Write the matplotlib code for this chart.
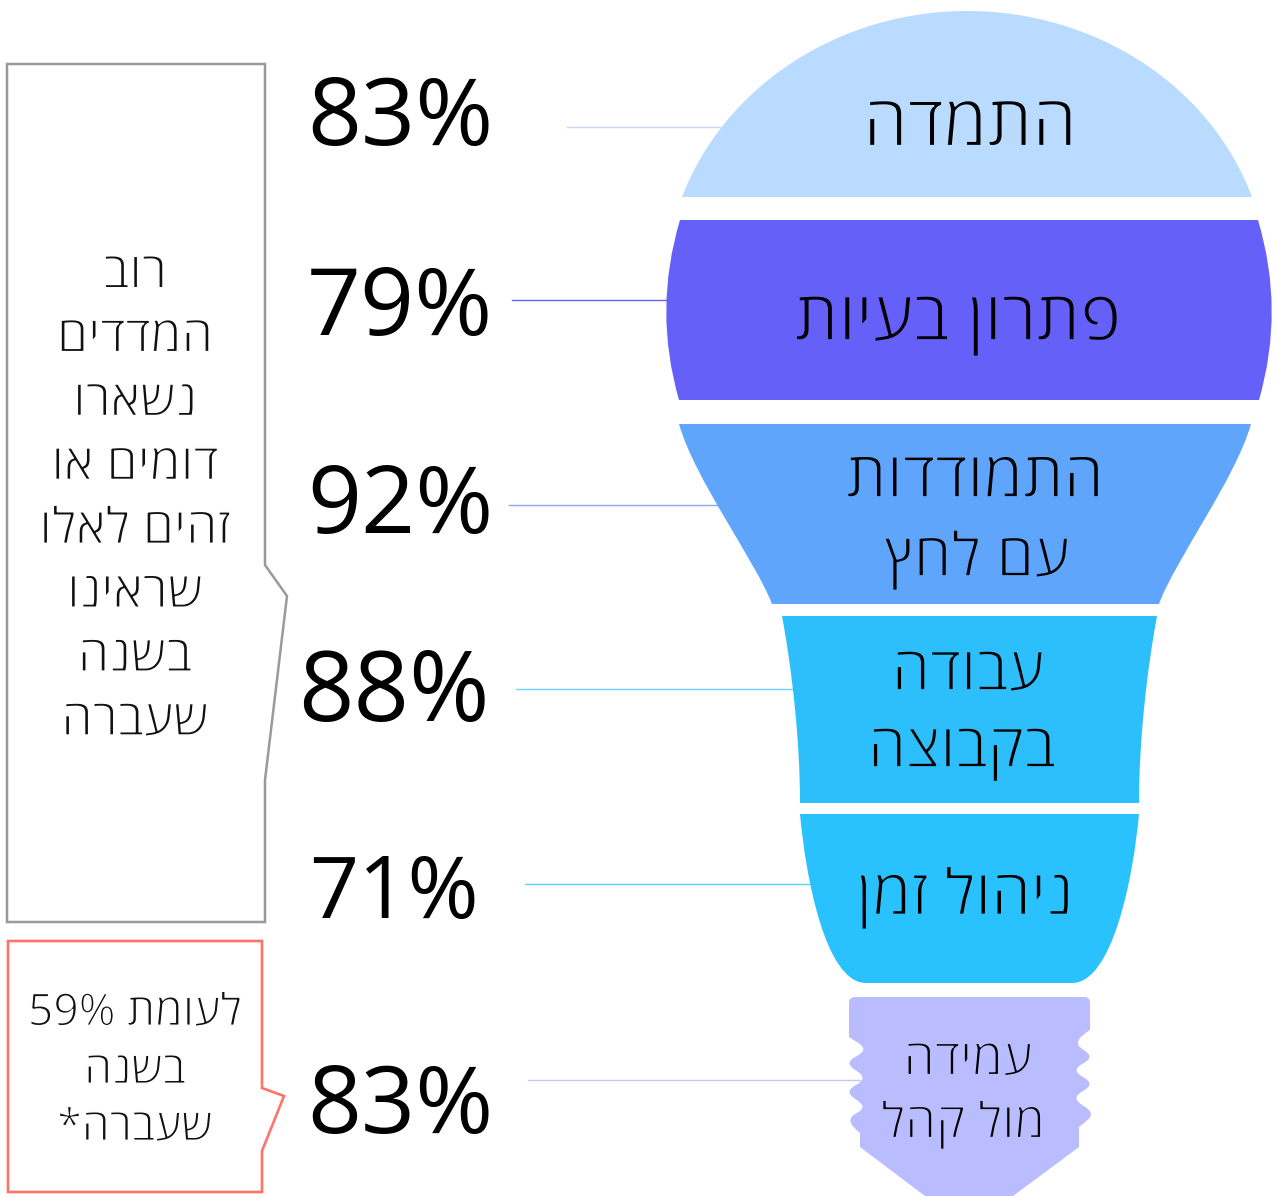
# lightbulb infographic - hebrew labels with percentages
import matplotlib
matplotlib.use("Agg")
import matplotlib.pyplot as plt
import matplotlib.patheffects as pe
from matplotlib.path import Path
from matplotlib.patches import PathPatch, Polygon

percents = [83, 79, 92, 88, 71, 83]
percent_right = [493, 493, 493, 490, 479, 493]
percent_y = [120, 310, 509, 696, 896, 1109]
percent_size = [68, 68, 68, 70, 62, 68]

labels = ["התמדה", "פתרון בעיות", "התמודדות", "עם לחץ", "עבודה", "בקבוצה", "ניהול זמן", "עמידה", "מול קהל"]
label_x = [970, 958, 975, 977, 968, 962, 965, 968, 963]
label_y = [127, 322, 480, 560, 674, 752, 898, 1062, 1125]
label_size = [51, 49.7, 46, 43.5, 44, 44, 45.5, 36, 35.5]
label_bg = ["#B8DBFF", "#6560F8", "#5EA5FB", "#5EA5FB", "#2DBFFB", "#2DBFFB", "#29C1FE", "#B9BCFF", "#B9BCFF"]

gray_note = ["רוב", "המדדים", "נשארו", "דומים או", "זהים לאלו", "שראינו", "בשנה", "שעברה"]
red_note = ["לעומת 59%", "בשנה", "שעברה*"]

leaders = [(567, 720, 127, "#c9d4f8"), (512, 668, 300, "#6560f8"), (509, 720, 505, "#8aa6f6"),
           (516, 796, 689, "#6dd2fb"), (525, 810, 884, "#5fd0fd"), (528, 860, 1080, "#c6c6f8")]

FONT = ["Open Sans", "Liberation Sans", "DejaVu Sans"]


def visual(s):
    # matplotlib has no bidi, so put the hebrew in drawing order
    words = [w if any(c.isdigit() for c in w) else w[::-1] for w in s.split(" ")]
    return " ".join(words[::-1])


def thin(bg, width=1.3):
    # no light hebrew face installed: eat the glyph edge with the background colour
    return [pe.Stroke(linewidth=width, foreground=bg)]


fig = plt.figure(figsize=(12.77, 11.96), dpi=100)
ax = fig.add_axes([0, 0, 1, 1])
ax.set_xlim(0, 1277)
ax.set_ylim(1196, 0)
ax.axis("off")

for x0, x1, y, c in leaders:
    ax.plot([x0, x1], [y, y], color=c, lw=1.0, zorder=1)

M, L, C3, C4, Z = Path.MOVETO, Path.LINETO, Path.CURVE3, Path.CURVE4, Path.CLOSEPOLY


def shape(verts, codes, color):
    ax.add_patch(PathPatch(Path(verts, codes), facecolor=color, edgecolor="none", zorder=2))


# dome
shape([(682, 197), (725, 85), (840, 11), (967, 11), (1095, 11), (1210, 85), (1252, 197), (682, 197)],
      [M, C4, C4, C4, C4, C4, C4, Z], "#B8DBFF")
# widest band
shape([(680, 220), (1258, 220), (1285, 310), (1259, 400), (679, 400), (653, 310), (680, 220), (680, 220)],
      [M, L, C3, C3, L, C3, C3, Z], "#6560F8")
# neck
shape([(679, 424), (1251, 424), (1235, 480), (1175, 560), (1159, 604), (772, 604), (755, 560), (695, 480),
       (679, 424), (679, 424)],
      [M, L, C4, C4, C4, L, C4, C4, C4, Z], "#5EA5FB")
# upper stem
shape([(782, 616), (1157, 616), (1147, 670), (1139, 740), (1139, 803), (800, 803), (800, 740), (792, 670),
       (782, 616), (782, 616)],
      [M, L, C4, C4, C4, L, C4, C4, C4, Z], "#2DBFFB")
# lower stem
shape([(800, 814), (1139, 814), (1133, 880), (1112, 983), (1072, 983), (866, 983), (826, 983), (806, 880),
       (800, 814), (800, 814)],
      [M, L, C4, C4, C4, L, C4, C4, C4, Z], "#29C1FE")

# screw base, scalloped on both sides
right_side = [(1090, 1030), (1070, 1042), (1096, 1057), (1070, 1070), (1096, 1084), (1070, 1098), (1096, 1113),
              (1079, 1127)]
left_side = [(860, 1133), (843, 1120), (869, 1107), (843, 1092), (869, 1078), (843, 1063), (869, 1050), (849, 1037)]
verts = [(855, 997), (1084, 997), (1090, 997), (1090, 1003), (1090, 1030)]
codes = [M, L, C3, C3, L]
for i in range(1, len(right_side) - 1):
    p, q = right_side[i], right_side[i + 1]
    verts += [p, ((p[0] + q[0]) / 2, (p[1] + q[1]) / 2)]
    codes += [C3, C3]
verts += [(1079, 1127), (1079, 1147), (1013, 1196), (925, 1196), (860, 1147), (860, 1133)]
codes += [L, L, L, L, L, L]
for i in range(1, len(left_side) - 1):
    p, q = left_side[i], left_side[i + 1]
    verts += [p, ((p[0] + q[0]) / 2, (p[1] + q[1]) / 2)]
    codes += [C3, C3]
verts += [(849, 1037), (849, 1003), (849, 997), (855, 997), (855, 997)]
codes += [L, L, C3, C3, Z]
shape(verts, codes, "#B9BCFF")

# callouts
ax.add_patch(Polygon([(7, 64), (265, 64), (265, 565), (287, 596), (265, 780), (265, 922), (7, 922)],
                     closed=True, fill=False, edgecolor="#9a9a9a", lw=1.8, joinstyle="miter", zorder=2))
ax.add_patch(Polygon([(8, 941), (262, 941), (262, 1088), (284, 1096), (262, 1151), (262, 1192), (8, 1192)],
                     closed=True, fill=False, edgecolor="#FF7369", lw=1.9, joinstyle="miter", zorder=2))

# big percentages
for v, x, y, s in zip(percents, percent_right, percent_y, percent_size):
    ax.text(x, y, f"{v}%", ha="right", va="center", fontsize=s, family=FONT, color="black", zorder=3)

for t, x, y, s, bg in zip(labels, label_x, label_y, label_size, label_bg):
    ax.text(x, y, visual(t), ha="center", va="center", fontsize=s, family=FONT, color="#000000", zorder=3,
            path_effects=thin(bg))

for i, t in enumerate(gray_note):
    ax.text(135, 275 + i * 63.9, visual(t), ha="center", va="center", fontsize=36, family=FONT, color="#111111",
            zorder=3, path_effects=thin("white", 1.1))

red_y = [1014, 1072, 1129]
for t, y in zip(red_note, red_y):
    ax.text(135, y, visual(t), ha="center", va="center", fontsize=32, family=FONT, color="#111111",
            zorder=3, path_effects=thin("white", 1.0))

fig.savefig("out.png", dpi=100)
